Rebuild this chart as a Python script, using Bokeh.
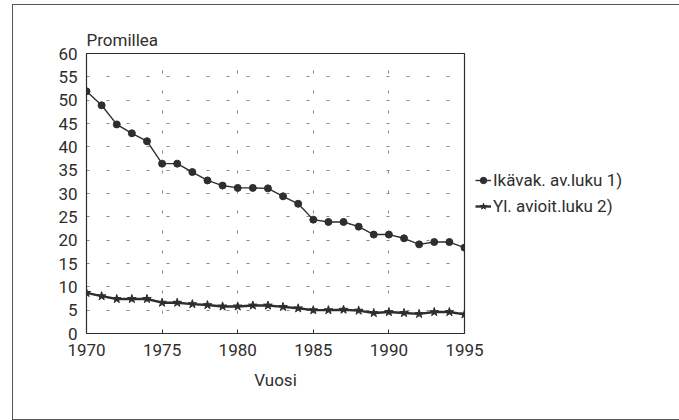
from bokeh.plotting import figure
from bokeh.models import Legend, LegendItem, FixedTicker, Title
from bokeh.embed import file_html
from bokeh.resources import INLINE

years = list(range(1970, 1996))
ikavak = [51.9, 48.9, 44.8, 42.9, 41.2, 36.4, 36.4, 34.6, 32.8, 31.7, 31.2, 31.2, 31.1,
          29.4, 27.8, 24.4, 23.9, 23.9, 22.9, 21.2, 21.2, 20.4, 19.1, 19.6, 19.6, 18.4]
ylavioit = [8.7, 8.0, 7.4, 7.4, 7.4, 6.6, 6.6, 6.3, 6.1, 5.8, 5.8, 6.0, 6.0,
            5.7, 5.4, 5.0, 5.0, 5.1, 4.9, 4.4, 4.6, 4.4, 4.2, 4.6, 4.6, 4.1]
label1 = "Ikävak. av.luku 1)"
label2 = "Yl. avioit.luku 2)"
x_ticks = [1970, 1975, 1980, 1985, 1990, 1995]
y_ticks = list(range(0, 61, 5))

FONT = "Roboto"
INK = "#2e2e2e"

p = figure(frame_width=378, frame_height=280, output_backend="svg", toolbar_location=None,
           x_range=(1970, 1995), y_range=(0, 60),
           min_border_left=73, min_border_right=190, min_border_top=48, min_border_bottom=86)
p.styles = {"border": "1px solid #555"}
p.margin = (4, 0, 0, 12)

p.title = Title(text="Promillea", align="left", text_font=FONT, text_font_size="17px",
                text_font_style="normal", text_color=INK, standoff=8)

p.outline_line_color = INK
p.outline_line_width = 1.2

for ax in (p.xaxis[0], p.yaxis[0]):
    ax.axis_line_color = INK
    ax.major_label_text_font = FONT
    ax.major_label_text_font_size = "17px"
    ax.major_label_text_color = INK
    ax.minor_tick_line_color = None
    ax.major_tick_line_color = INK

p.xaxis.ticker = FixedTicker(ticks=x_ticks)
p.yaxis.ticker = FixedTicker(ticks=y_ticks)
p.xaxis.major_tick_in = 4
p.xaxis.major_tick_out = 0
p.yaxis.major_tick_in = 0
p.yaxis.major_tick_out = 0
p.xaxis.major_label_standoff = 10
p.yaxis.major_label_standoff = 9
p.xaxis.axis_label = "Vuosi"
p.xaxis.axis_label_text_font = FONT
p.xaxis.axis_label_text_font_size = "17px"
p.xaxis.axis_label_text_font_style = "normal"
p.xaxis.axis_label_text_color = INK
p.xaxis.axis_label_standoff = 11

p.xgrid.ticker = FixedTicker(ticks=[1975, 1980, 1985, 1990])
p.ygrid.ticker = FixedTicker(ticks=y_ticks[1:-1])
for g in (p.xgrid[0], p.ygrid[0]):
    g.grid_line_color = "#888888"
    g.grid_line_dash = "3 17"
    g.grid_line_width = 1

l1 = p.line(years, ikavak, line_color=INK, line_width=1.4)
s1 = p.scatter(years, ikavak, marker="circle", size=7, fill_color=INK, line_color=INK)
l2 = p.line(years, ylavioit, line_color=INK, line_width=2.4)
s2 = p.scatter(years, ylavioit, marker="star", size=9, fill_color=INK, line_color=INK)

legend = Legend(items=[LegendItem(label=label1, renderers=[l1, s1]),
                       LegendItem(label=label2, renderers=[l2, s2])],
                location="left", border_line_color=None, background_fill_alpha=0,
                label_text_font=FONT, label_text_font_size="17px", label_text_color=INK,
                glyph_width=16, label_standoff=2, spacing=6, padding=2, margin=11)
p.add_layout(legend, "right")

open("out.html", "w").write(file_html(p, INLINE))
